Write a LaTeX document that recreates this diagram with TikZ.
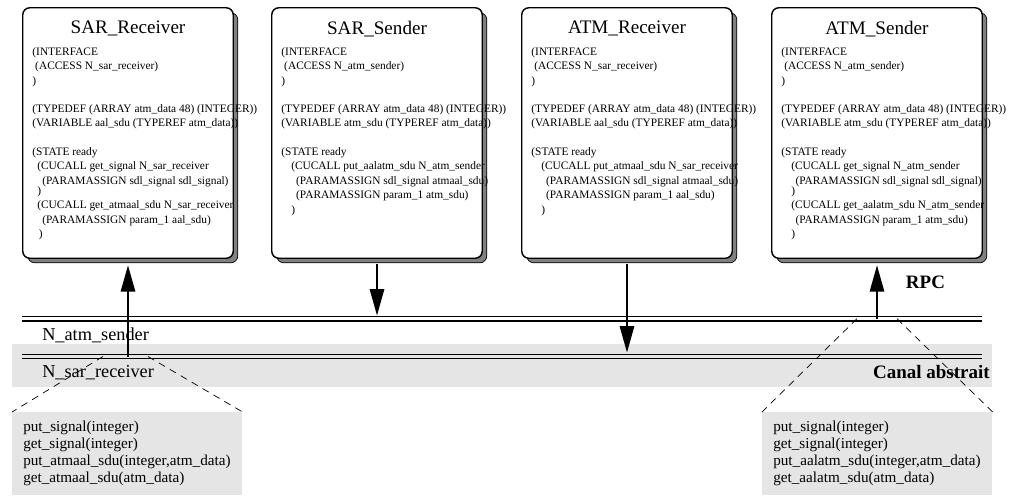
\documentclass[tikz,border=0pt]{standalone}
\usepackage{fontspec}
\setmainfont{Liberation Serif}
\usetikzlibrary{positioning, arrows.meta, shadows}

\tikzset{
  procbox/.style={draw, fill=white, rounded corners=5pt, line width=0.6pt,
    minimum width=5.25cm, minimum height=6.25cm,
    drop shadow={shadow xshift=0.12cm, shadow yshift=-0.12cm, fill=gray, draw=black, line width=0.5pt, opacity=1}},
  boxedge/.style={rounded corners=5pt, line width=0.6pt},
  proctitle/.style={inner sep=0pt, font=\fontsize{13.6}{16}\selectfont},
  proccode/.style={inner sep=0pt, align=left, font=\fontsize{8.1}{10.3}\selectfont},
  bus/.style={double, double distance=2pt, line width=1pt},
  buslabel/.style={inner sep=0pt, anchor=west, font=\fontsize{13}{15}\selectfont},
  boldlabel/.style={inner sep=0pt, font=\fontsize{13.5}{15}\selectfont\bfseries},
  rpc/.style={line width=1.2pt, -{Triangle[length=0.66cm, width=0.36cm]}},
  zoomline/.style={dash pattern=on 5pt off 4pt, line width=0.5pt},
  listbox/.style={fill=gray!20, anchor=north west, inner xsep=0.275cm,
    text width=5.2cm, minimum height=2.075cm, align=left,
    font=\fontsize{10.8}{12.1}\selectfont}
}

\begin{document}
\begin{tikzpicture}[x=0.025cm, y=-0.025cm]
  \useasboundingbox (0,0) rectangle (1009,495);
  % Abstract channel band
  \fill[gray!20] (12,344) rectangle (992,387);

  % Processes
  \node[procbox] (sarrecv) at (128,133) {};
  \node[procbox] (sarsend) at (377,133) {};
  \node[procbox] (atmrecv) at (627,133) {};
  \node[procbox] (atmsend) at (877,133) {};

  \node[proctitle, below=0.33cm of sarrecv.north] (sarrecvtitle) {SAR\_Receiver};
  \node[proctitle, below=0.33cm of sarsend.north] (sarsendtitle) {SAR\_Sender};
  \node[proctitle, below=0.33cm of atmrecv.north] (atmrecvtitle) {ATM\_Receiver};
  \node[proctitle, below=0.33cm of atmsend.north] (atmsendtitle) {ATM\_Sender};

  \node[proccode, below right=0.99cm and 0.24cm of sarrecv.north west] (sarrecvcode) {%
    (INTERFACE\\
    \hspace*{2pt}(ACCESS N\_sar\_receiver)\\
    )\\[9.5pt]
    (TYPEDEF (ARRAY atm\_data 48) (INTEGER))\\
    (VARIABLE aal\_sdu (TYPEREF atm\_data))\\[10pt]
    (STATE ready\\
    \hspace*{3.5pt}(CUCALL get\_signal N\_sar\_receiver\\
    \hspace*{7pt}(PARAMASSIGN sdl\_signal sdl\_signal)\\[-3pt]
    \hspace*{3.5pt})\\
    \hspace*{3.5pt}(CUCALL get\_atmaal\_sdu N\_sar\_receiver\\
    \hspace*{7pt}(PARAMASSIGN param\_1 aal\_sdu)\\
    \hspace*{4.5pt})};
  \node[proccode, below right=0.99cm and 0.24cm of sarsend.north west] (sarsendcode) {%
    (INTERFACE\\
    \hspace*{2pt}(ACCESS N\_atm\_sender)\\
    )\\[9.5pt]
    (TYPEDEF (ARRAY atm\_data 48) (INTEGER))\\
    (VARIABLE atm\_sdu (TYPEREF atm\_data))\\[10pt]
    (STATE ready\\
    \hspace*{7pt}(CUCALL put\_aalatm\_sdu N\_atm\_sender\\
    \hspace*{10.5pt}(PARAMASSIGN sdl\_signal atmaal\_sdu)\\
    \hspace*{10.5pt}(PARAMASSIGN param\_1 atm\_sdu)\\
    \hspace*{7pt})};
  \node[proccode, below right=0.99cm and 0.24cm of atmrecv.north west] (atmrecvcode) {%
    (INTERFACE\\
    \hspace*{2pt}(ACCESS N\_sar\_receiver)\\
    )\\[9.5pt]
    (TYPEDEF (ARRAY atm\_data 48) (INTEGER))\\
    (VARIABLE aal\_sdu (TYPEREF atm\_data))\\[10pt]
    (STATE ready\\
    \hspace*{7pt}(CUCALL put\_atmaal\_sdu N\_sar\_receiver\\
    \hspace*{10.5pt}(PARAMASSIGN sdl\_signal atmaal\_sdu)\\
    \hspace*{10.5pt}(PARAMASSIGN param\_1 aal\_sdu)\\
    \hspace*{7pt})};
  \node[proccode, below right=0.99cm and 0.24cm of atmsend.north west] (atmsendcode) {%
    (INTERFACE\\
    \hspace*{2pt}(ACCESS N\_atm\_sender)\\
    )\\[9.5pt]
    (TYPEDEF (ARRAY atm\_data 48) (INTEGER))\\
    (VARIABLE atm\_sdu (TYPEREF atm\_data))\\[10pt]
    (STATE ready\\
    \hspace*{7pt}(CUCALL get\_signal N\_atm\_sender\\
    \hspace*{10pt}(PARAMASSIGN sdl\_signal sdl\_signal)\\[-3pt]
    \hspace*{7pt})\\
    \hspace*{7pt}(CUCALL get\_aalatm\_sdu N\_atm\_sender\\
    \hspace*{10pt}(PARAMASSIGN param\_1 atm\_sdu)\\
    \hspace*{7pt})};

  % Borders over the text
  \foreach \b in {sarrecv, sarsend, atmrecv, atmsend}
    \draw[boxedge] (\b.south west) rectangle (\b.north east);

  % Channels
  \coordinate (atmbusL) at (22,318.7);
  \coordinate (atmbusR) at (982,318.7);
  \coordinate (sarbusL) at (22,356.5);
  \coordinate (sarbusR) at (982,356.5);
  \draw[bus] (atmbusL) -- (atmbusR);
  \draw[bus, double=gray!20] (sarbusL) -- (sarbusR);

  \node[buslabel] (atmlabel) at (42,335) {N\_atm\_sender};
  \node[buslabel] (sarlabel) at (42,373) {N\_sar\_receiver};
  \node[boldlabel, anchor=east] (canal) at (990,372) {Canal abstrait};
  \node[boldlabel] (rpclabel) at (925.5,282) {RPC};

  % RPC arrows
  \draw[rpc, shorten >=0.17cm] (sarrecv.south |- sarbusL) -- (sarrecv.south);
  \draw[rpc, shorten <=0.15cm, shorten >=0.08cm] (sarsend.south) -- (sarsend.south |- atmbusL);
  \draw[rpc, shorten <=0.15cm, shorten >=0.1cm] (atmrecv.south) -- (atmrecv.south |- sarbusL);
  \draw[rpc, shorten >=0.17cm] (atmsend.south |- atmbusL) -- (atmsend.south);

  % Interfaces
  \node[listbox] (sarlist) at (12,412) {%
    put\_signal(integer)\\
    get\_signal(integer)\\
    put\_atmaal\_sdu(integer,atm\_data)\\
    get\_atmaal\_sdu(atm\_data)};
  \node[listbox] (atmlist) at (762,412) {%
    put\_signal(integer)\\
    get\_signal(integer)\\
    put\_aalatm\_sdu(integer,atm\_data)\\
    get\_aalatm\_sdu(atm\_data)};

  \coordinate (sarzoomL) at (103,356.5);
  \coordinate (sarzoomR) at (148,356.5);
  \coordinate (atmzoomL) at (857,318.7);
  \coordinate (atmzoomR) at (897,318.7);
  \draw[zoomline] (sarzoomL) -- (sarlist.north west);
  \draw[zoomline] (sarzoomR) -- (sarlist.north east);
  \draw[zoomline] (atmzoomL) -- (atmlist.north west);
  \draw[zoomline] (atmzoomR) -- (atmlist.north east);
\end{tikzpicture}
\end{document}
